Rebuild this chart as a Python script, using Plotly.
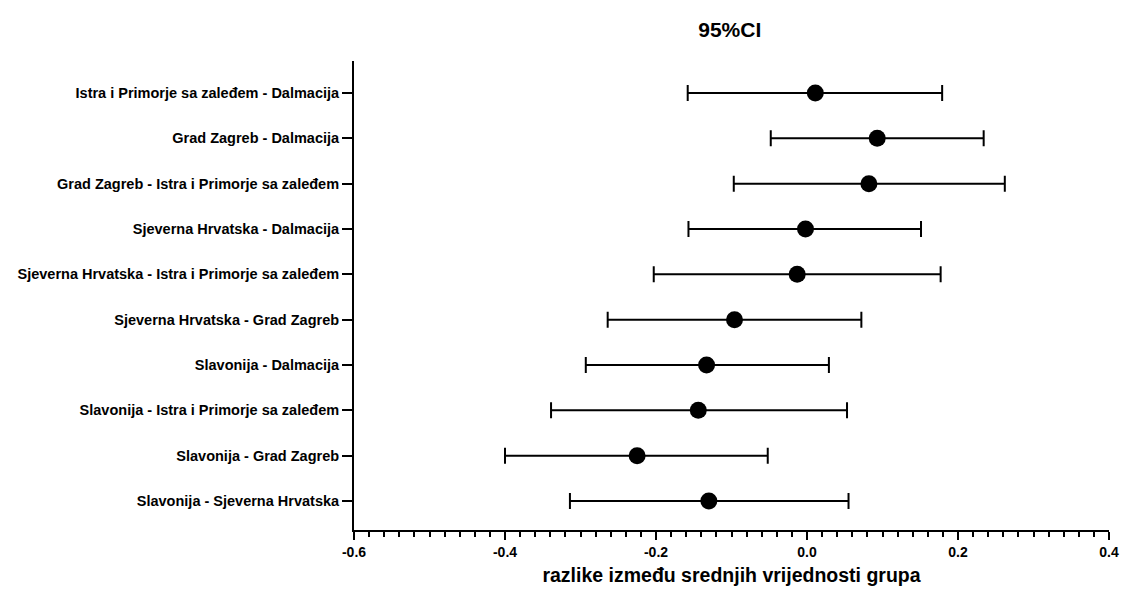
import plotly.graph_objects as go

comparisons = [
    "Istra i Primorje sa zaleđem - Dalmacija",
    "Grad Zagreb - Dalmacija",
    "Grad Zagreb - Istra i Primorje sa zaleđem",
    "Sjeverna Hrvatska - Dalmacija",
    "Sjeverna Hrvatska - Istra i Primorje sa zaleđem",
    "Sjeverna Hrvatska - Grad Zagreb",
    "Slavonija - Dalmacija",
    "Slavonija - Istra i Primorje sa zaleđem",
    "Slavonija - Grad Zagreb",
    "Slavonija - Sjeverna Hrvatska",
]
mean_diff = [0.011, 0.093, 0.082, -0.002, -0.013, -0.096, -0.133, -0.144, -0.225, -0.130]
ci_lower = [-0.158, -0.048, -0.097, -0.157, -0.203, -0.264, -0.293, -0.339, -0.400, -0.314]
ci_upper = [0.179, 0.234, 0.262, 0.151, 0.177, 0.072, 0.029, 0.053, -0.052, 0.055]

x_ticks = [-0.6, -0.4, -0.2, 0.0, 0.2, 0.4]
x_tick_labels = ["-0.6", "-0.4", "-0.2", "0.0", "0.2", "0.4"]

err_plus = [u - m for u, m in zip(ci_upper, mean_diff)]
err_minus = [m - l for m, l in zip(mean_diff, ci_lower)]
ypos = list(range(len(comparisons)))

FONT = "Liberation Sans, Arial, sans-serif"

fig = go.Figure()
fig.add_trace(go.Scatter(
    x=mean_diff, y=ypos, mode="markers",
    marker=dict(color="black", size=17),
    error_x=dict(type="data", symmetric=False, array=err_plus, arrayminus=err_minus,
                 color="black", thickness=2, width=8),
    showlegend=False,
))

fig.update_layout(
    width=1121, height=592,
    margin=dict(l=354, r=12, t=61, b=62, autoexpand=False),
    plot_bgcolor="white", paper_bgcolor="white",
    font=dict(family=FONT, color="black"),
    title=dict(text="<b>95%CI</b>", x=0.651, xanchor="center", y=0.95, yanchor="middle",
               font=dict(family=FONT, size=21, color="black")),
    xaxis=dict(
        automargin=False,
        range=[-0.6, 0.4], tickvals=x_ticks, ticktext=["<b>%s</b>" % t for t in x_tick_labels],
        showgrid=False, zeroline=False, showline=True, linecolor="black", linewidth=2,
        ticks="outside", ticklen=8, tickwidth=2, tickcolor="black",
        tickfont=dict(family=FONT, size=14, color="black"),
        minor=dict(dtick=0.02, ticks="outside", ticklen=5, tickwidth=2, tickcolor="black", showgrid=False),
        title=dict(text="<b>razlike između srednjih vrijednosti grupa</b>",
                   font=dict(family=FONT, size=19.5, color="black"), standoff=10),
    ),
    yaxis=dict(
        automargin=False,
        range=[9.64, -0.706], tickvals=ypos, ticktext=["<b>%s</b>" % c for c in comparisons],
        showgrid=False, zeroline=False, showline=True, linecolor="black", linewidth=2,
        ticks="outside", ticklen=10, tickwidth=2, tickcolor="black",
        tickfont=dict(family=FONT, size=14.5, color="black"),
    ),
)

fig.write_html(
    "out.html",
    config={"displayModeBar": False},
    post_script="document.body.style.margin='0';document.body.style.overflow='hidden';",
)
